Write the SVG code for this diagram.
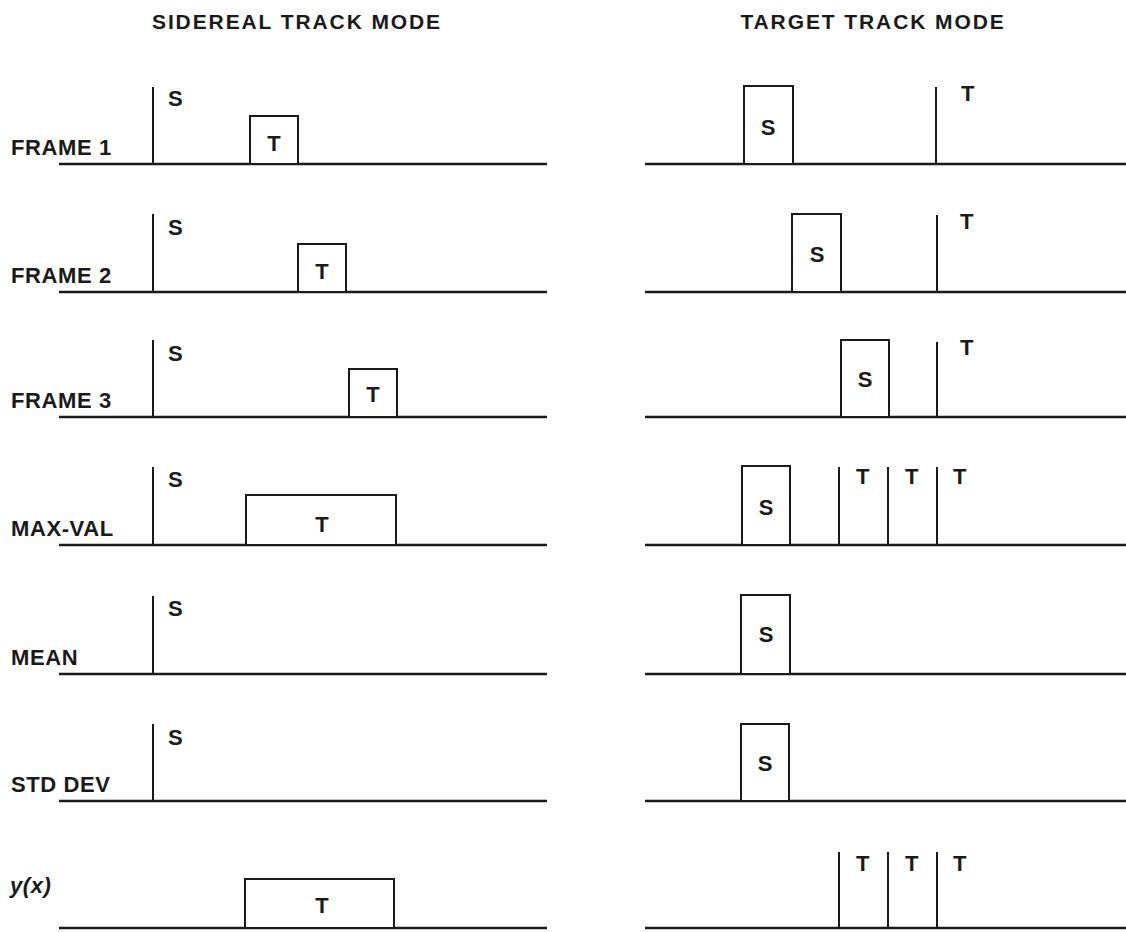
<svg xmlns="http://www.w3.org/2000/svg" width="1126" height="932" viewBox="0 0 1126 932">
<style>
.bg{fill:#fff}
.ln{stroke:#1a1a1a;stroke-width:2;fill:none}
.base{stroke:#1a1a1a;stroke-width:2.5;fill:none}
.box{stroke:#1a1a1a;stroke-width:2;fill:#fff}
.t{font-family:"Liberation Sans",Arial,sans-serif;font-weight:bold;font-size:22px;fill:#1a1a1a}
.lbl{font-family:"Liberation Sans",Arial,sans-serif;font-weight:bold;font-size:22px;letter-spacing:0.6px;fill:#1a1a1a}
.ttl{font-family:"Liberation Sans",Arial,sans-serif;font-weight:bold;font-size:21px;letter-spacing:1.9px;fill:#1a1a1a}
.c{text-anchor:middle}
</style>
<rect class="bg" x="0" y="0" width="1126" height="932"/>
<g id="titles">
<text class="ttl c" x="297" y="29">SIDEREAL TRACK MODE</text>
<text class="ttl c" x="873" y="29">TARGET TRACK MODE</text>
</g>
<g id="row-labels">
<text class="lbl" x="11" y="155">FRAME 1</text>
<text class="lbl" x="11" y="283">FRAME 2</text>
<text class="lbl" x="11" y="408">FRAME 3</text>
<text class="lbl" x="11" y="536">MAX-VAL</text>
<text class="lbl" x="11" y="665">MEAN</text>
<text class="lbl" x="11" y="792">STD DEV</text>
<text class="lbl" x="10" y="893" font-style="italic">y(x)</text>
</g>
<g id="connectors">
<line class="base" x1="59" y1="164" x2="547" y2="164"/>
<line class="base" x1="645" y1="164" x2="1126" y2="164"/>
<line class="base" x1="59" y1="292" x2="547" y2="292"/>
<line class="base" x1="645" y1="292" x2="1126" y2="292"/>
<line class="base" x1="59" y1="417" x2="547" y2="417"/>
<line class="base" x1="645" y1="417" x2="1126" y2="417"/>
<line class="base" x1="59" y1="545" x2="547" y2="545"/>
<line class="base" x1="645" y1="545" x2="1126" y2="545"/>
<line class="base" x1="59" y1="674" x2="547" y2="674"/>
<line class="base" x1="645" y1="674" x2="1126" y2="674"/>
<line class="base" x1="59" y1="801" x2="547" y2="801"/>
<line class="base" x1="645" y1="801" x2="1126" y2="801"/>
<line class="base" x1="59" y1="928" x2="547" y2="928"/>
<line class="base" x1="645" y1="928" x2="1126" y2="928"/>
</g>
<g id="sidereal-frame1">
<line class="ln" x1="153" y1="87" x2="153" y2="164"/>
<text class="t" x="168" y="106">S</text>
<rect class="box" x="250" y="116" width="48" height="48"/>
<text class="t c" x="274" y="151">T</text>
</g>
<g id="sidereal-frame2">
<line class="ln" x1="153" y1="214" x2="153" y2="292"/>
<text class="t" x="168" y="235">S</text>
<rect class="box" x="298" y="244" width="48" height="48"/>
<text class="t c" x="322" y="279">T</text>
</g>
<g id="sidereal-frame3">
<line class="ln" x1="153" y1="340" x2="153" y2="417"/>
<text class="t" x="168" y="361">S</text>
<rect class="box" x="349" y="369" width="48" height="48"/>
<text class="t c" x="373" y="402">T</text>
</g>
<g id="sidereal-maxval">
<line class="ln" x1="153" y1="467" x2="153" y2="545"/>
<text class="t" x="168" y="487">S</text>
<rect class="box" x="246" y="495" width="150" height="50"/>
<text class="t c" x="322" y="532">T</text>
</g>
<g id="sidereal-mean">
<line class="ln" x1="153" y1="596" x2="153" y2="674"/>
<text class="t" x="168" y="616">S</text>
</g>
<g id="sidereal-stddev">
<line class="ln" x1="153" y1="724" x2="153" y2="801"/>
<text class="t" x="168" y="745">S</text>
</g>
<g id="sidereal-yx">
<rect class="box" x="245" y="879" width="149" height="49"/>
<text class="t c" x="322" y="913">T</text>
</g>
<g id="target-frame1">
<rect class="box" x="744" y="86" width="49" height="78"/>
<text class="t c" x="768" y="135">S</text>
<line class="ln" x1="936" y1="87" x2="936" y2="164"/>
<text class="t" x="961" y="101">T</text>
</g>
<g id="target-frame2">
<rect class="box" x="792" y="214" width="49" height="78"/>
<text class="t c" x="817" y="262">S</text>
<line class="ln" x1="937" y1="215" x2="937" y2="292"/>
<text class="t" x="960" y="229">T</text>
</g>
<g id="target-frame3">
<rect class="box" x="841" y="340" width="48" height="77"/>
<text class="t c" x="865" y="387">S</text>
<line class="ln" x1="937" y1="342" x2="937" y2="417"/>
<text class="t" x="960" y="355">T</text>
</g>
<g id="target-maxval">
<rect class="box" x="742" y="466" width="48" height="79"/>
<text class="t c" x="766" y="515">S</text>
<line class="ln" x1="839" y1="467" x2="839" y2="545"/>
<text class="t" x="856" y="484">T</text>
<line class="ln" x1="888" y1="467" x2="888" y2="545"/>
<text class="t" x="905" y="484">T</text>
<line class="ln" x1="937" y1="467" x2="937" y2="545"/>
<text class="t" x="953" y="484">T</text>
</g>
<g id="target-mean">
<rect class="box" x="741" y="595" width="49" height="79"/>
<text class="t c" x="766" y="642">S</text>
</g>
<g id="target-stddev">
<rect class="box" x="741" y="724" width="48" height="77"/>
<text class="t c" x="765" y="771">S</text>
</g>
<g id="target-yx">
<line class="ln" x1="839" y1="852" x2="839" y2="928"/>
<text class="t" x="856" y="871">T</text>
<line class="ln" x1="888" y1="852" x2="888" y2="928"/>
<text class="t" x="905" y="871">T</text>
<line class="ln" x1="937" y1="852" x2="937" y2="928"/>
<text class="t" x="953" y="871">T</text>
</g>
</svg>
